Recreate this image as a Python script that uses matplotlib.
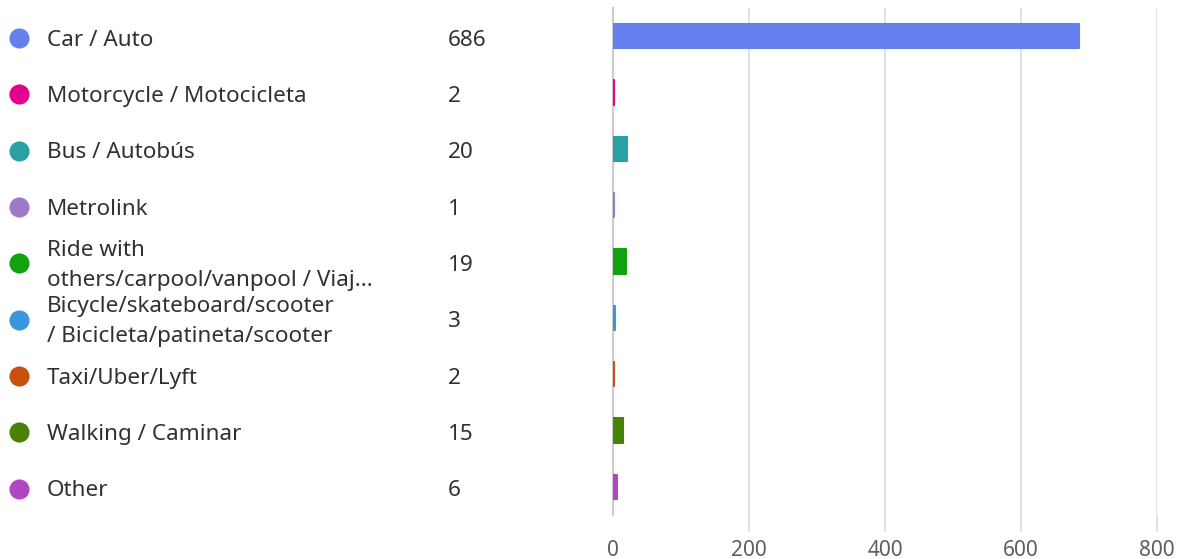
import matplotlib.pyplot as plt
from matplotlib.transforms import blended_transform_factory

labels = [
    "Car / Auto",
    "Motorcycle / Motocicleta",
    "Bus / Autobús",
    "Metrolink",
    "Ride with\nothers/carpool/vanpool / Viaj...",
    "Bicycle/skateboard/scooter\n/ Bicicleta/patineta/scooter",
    "Taxi/Uber/Lyft",
    "Walking / Caminar",
    "Other",
]
counts = [686, 2, 20, 1, 19, 3, 2, 15, 6]
colors = ["#6580EE", "#E3008C", "#2AA0A4", "#9B7BC8", "#13A10E",
          "#3A96DD", "#CA5010", "#498205", "#B146C2"]
xticks = [0, 200, 400, 600, 800]

plt.rcParams['font.family'] = ['Noto Sans', 'DejaVu Sans']

W, H = 1184, 559
fig = plt.figure(figsize=(W / 100, H / 100), dpi=100)
ax = fig.add_axes([613 / W, 1 - 515 / H, (1157 - 613) / W, (515 - 8) / H])

y = list(range(len(counts)))
ax.barh(y, counts, height=0.43, color=colors, edgecolor=colors,
        linewidth=1.5, joinstyle='round', zorder=3)

ax.set_xlim(0, 800)
ax.set_ylim(len(counts) - 0.5, -0.5)
ax.set_xticks(xticks)
ax.set_xticklabels([str(t) for t in xticks])
ax.set_yticks([])
ax.grid(axis='x', color='#e3e3e3', linewidth=1.5, zorder=0)
ax.tick_params(axis='x', length=12, width=1.5, color='#e3e3e3',
               labelsize=15, labelcolor='#605e5c', pad=6)
ax.xaxis.get_major_ticks()[0].tick1line.set_visible(False)
for s in ['top', 'right', 'bottom']:
    ax.spines[s].set_visible(False)
ax.spines['left'].set_color('#cccccc')
ax.spines['left'].set_linewidth(1.5)

# legend-like list on the left
tr = blended_transform_factory(fig.transFigure, ax.transData)
for i, (lab, val, c) in enumerate(zip(labels, counts, colors)):
    yy = i + 0.03
    ax.plot([19.5 / W], [yy], marker='o', markersize=13.5, color=c,
            transform=tr, clip_on=False)
    ax.text(47 / W, yy + 0.04, lab, transform=tr, ha='left', va='center',
            fontsize=16.2, color='#323130', linespacing=1.55)
    ax.text(448 / W, yy + 0.04, str(val), transform=tr, ha='left',
            va='center', fontsize=16.2, color='#323130')

fig.savefig("out.png", dpi=100)
